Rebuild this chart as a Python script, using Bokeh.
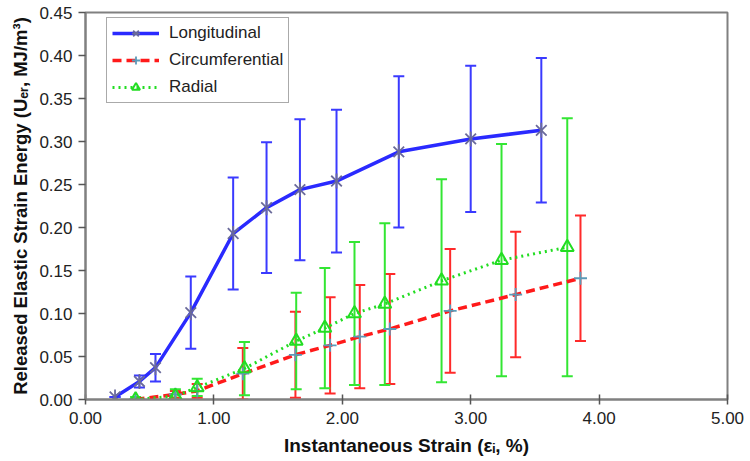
import math
from bokeh.plotting import figure
from bokeh.models import (ColumnDataSource, Whisker, TeeHead, Legend, LegendItem,
                          FixedTicker, NumeralTickFormatter, Range1d)
from bokeh.embed import file_html
from bokeh.resources import INLINE

# ---- data ----
long_x = [0.23, 0.42, 0.545, 0.82, 1.15, 1.41, 1.67, 1.955, 2.44, 3.00, 3.55]
long_y = [0.003, 0.021, 0.037, 0.101, 0.193, 0.223, 0.244, 0.254, 0.288, 0.303, 0.313]
long_e = [0.0, 0.007, 0.016, 0.042, 0.065, 0.076, 0.082, 0.083, 0.088, 0.085, 0.084]

circ_x = [0.39, 0.70, 0.87, 1.225, 1.635, 1.905, 2.136, 2.37, 2.84, 3.35, 3.855]
circ_y = [0.0, 0.006, 0.010, 0.030, 0.052, 0.063, 0.073, 0.082, 0.103, 0.122, 0.141]
circ_e = [0.0, 0.004, 0.008, 0.030, 0.050, 0.056, 0.060, 0.064, 0.072, 0.073, 0.073]

rad_x = [0.39, 0.70, 0.87, 1.238, 1.641, 1.864, 2.095, 2.331, 2.773, 3.24, 3.752]
rad_y = [0.0, 0.004, 0.014, 0.036, 0.068, 0.083, 0.100, 0.111, 0.138, 0.162, 0.177]
rad_e = [0.003, 0.008, 0.010, 0.031, 0.056, 0.070, 0.083, 0.094, 0.118, 0.135, 0.150]

x_ticks = [0, 1, 2, 3, 4, 5]
y_ticks = [0.0, 0.05, 0.10, 0.15, 0.20, 0.25, 0.30, 0.35, 0.40, 0.45]

FONT = "Liberation Sans"

p = figure(width=750, height=461, output_backend="svg", toolbar_location=None,
           x_range=Range1d(0, 5), y_range=Range1d(0, 0.45),
           min_border_left=85, min_border_right=23, min_border_top=12, min_border_bottom=62)
p.xgrid.visible = False
p.ygrid.visible = False
p.outline_line_color = "#808080"
p.outline_line_width = 2
p.background_fill_color = "white"
p.border_fill_color = "white"

for ax in (p.xaxis[0], p.yaxis[0]):
    ax.axis_line_color = "#808080"
    ax.axis_line_width = 2
    ax.major_tick_line_color = "#555555"
    ax.major_tick_line_width = 1.5
    ax.minor_tick_line_color = None
    ax.major_label_text_font = FONT
    ax.major_label_text_font_size = "17px"
    ax.major_label_text_color = "#222222"
    ax.axis_label_text_font = FONT
    ax.axis_label_text_font_style = "bold"
    ax.axis_label_text_color = "#111111"
    ax.formatter = NumeralTickFormatter(format="0.00")

p.xaxis.axis_label_text_font_size = "19px"
p.yaxis.axis_label_text_font_size = "18.5px"
p.xaxis.ticker = FixedTicker(ticks=x_ticks)
p.yaxis.ticker = FixedTicker(ticks=y_ticks)
p.xaxis.major_tick_in = 5
p.xaxis.major_tick_out = 5
p.yaxis.major_tick_in = 0
p.yaxis.major_tick_out = 7
p.xaxis.major_label_standoff = 7
p.yaxis.major_label_standoff = 6
p.xaxis.axis_label_standoff = 8
p.yaxis.axis_label_standoff = 5
p.xaxis.axis_label = "Instantaneous Strain (ε\u1d62, %)"
p.yaxis.axis_label = "Released Elastic Strain Energy (U\u2091\u1d63, MJ/m³)"


def add_errors(xs, ys, es, color):
    src = ColumnDataSource(dict(x=xs, upper=[y + e for y, e in zip(ys, es)],
                                lower=[y - e for y, e in zip(ys, es)]))
    w = Whisker(source=src, base="x", upper="upper", lower="lower", dimension="height",
                line_color=color, line_width=2,
                upper_head=TeeHead(size=11, line_color=color, line_width=2),
                lower_head=TeeHead(size=11, line_color=color, line_width=2))
    p.add_layout(w)


add_errors(long_x, long_y, long_e, "#3a3aff")
add_errors(circ_x, circ_y, circ_e, "#ff2a2a")
add_errors(rad_x, rad_y, rad_e, "#33e633")

l1 = p.line(long_x, long_y, line_color="#2a2aff", line_width=3.5)
m1 = p.scatter(long_x, long_y, marker="x", size=15, line_color="#6a6a9a", line_width=1.8)
m1b = p.scatter(long_x, long_y, marker="dash", size=15, angle=math.pi / 2,
                line_color="#6a6a9a", line_width=1.8)

l2 = p.line(circ_x, circ_y, line_color="#ff1a1a", line_width=3.5, line_dash="9 5")
m2 = p.scatter(circ_x, circ_y, marker="cross", size=13, line_color="#5a9ab8", line_width=1.8)

l3 = p.line(rad_x, rad_y, line_color="#22dd22", line_width=3, line_dash="2 4")
m3 = p.scatter(rad_x, rad_y, marker="triangle", size=13, fill_color=None,
               line_color="#22dd22", line_width=2)

legend = Legend(items=[LegendItem(label="Longitudinal", renderers=[l1, m1, m1b]),
                       LegendItem(label="Circumferential", renderers=[l2, m2]),
                       LegendItem(label="Radial", renderers=[l3, m3])],
                location=(21, 296))
legend.label_text_font = FONT
legend.label_text_font_size = "17px"
legend.label_text_color = "#222222"
legend.glyph_width = 47
legend.glyph_height = 20
legend.label_height = 20
legend.spacing = 7
legend.padding = 5
legend.margin = 0
legend.label_standoff = 10
legend.border_line_color = "#555555"
legend.border_line_width = 1.5
legend.background_fill_alpha = 1.0
p.add_layout(legend)

open("out.html", "w").write(file_html(p, INLINE))
